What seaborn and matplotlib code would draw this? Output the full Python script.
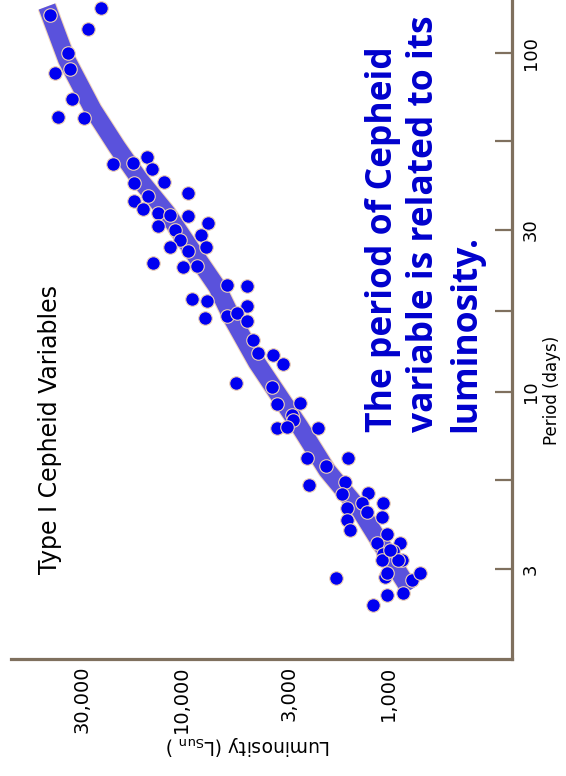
import numpy as np
import pandas as pd
import seaborn as sns
import matplotlib.pyplot as plt
from matplotlib.ticker import FixedLocator, NullFormatter

# Type I Cepheids: luminosity (L_sun) and period (days)
luminosity = [42960, 24360, 28100, 35200, 40600, 34400, 33600, 39300, 29400,
              21300, 17060, 14590, 13800, 12080, 16870, 9250, 14420, 16870,
              15260, 12910, 11300, 9250, 7410, 12910, 10690, 8010, 10110, 7570,
              11300, 9250, 13650, 9780, 8370, 6000, 4800, 8850, 7490, 4800,
              7660, 6000, 5370, 4800, 4490, 4250, 3590, 3220, 3630, 3440, 2660,
              2910, 2880, 3440, 3080, 2180, 2460, 1990, 1560, 2410, 1610, 1670,
              1250, 1340, 1060, 1580, 1260, 1070, 1580, 1530, 1010, 1130, 875,
              1060, 946, 856, 1070, 1030, 766, 700, 1780, 846, 1010, 1180, 1010,
              895, 978, 5420]
period = [129, 135, 117.8, 100, 87.3, 89.8, 73.1, 64.7, 64.3,
          47.1, 47.4, 49.3, 45.5, 41.6, 41.4, 38.6, 37.9, 36.6,
          34.7, 33.7, 33.3, 33.1, 31.5, 30.9, 30.0, 29.0, 28.1, 26.8,
          26.8, 26.0, 23.9, 23.4, 23.5, 20.7, 20.5, 18.8, 18.5, 17.9,
          16.5, 16.7, 17.1, 16.2, 14.2, 13.0, 12.8, 12.1, 10.3, 9.2, 9.27,
          8.55, 8.26, 7.82, 7.88, 7.82, 6.38, 6.04, 6.38, 5.31, 5.42, 4.99,
          5.03, 4.70, 4.70, 4.54, 4.42, 4.27, 4.18, 3.91, 3.80, 3.58, 3.58,
          3.32, 3.39, 3.19, 3.19, 2.84, 2.78, 2.92, 2.82, 2.55, 2.51, 2.35, 2.92,
          3.19, 3.41, 10.6]

# the broad period-luminosity band
band_lum = [44400, 35600, 26600, 20400, 15800, 11700, 9060, 6700, 5610,
            4300, 2660, 1970, 1365, 945, 783]
band_per = [136.8, 95.3, 67.9, 52.8, 42.2, 33.7, 26.7, 20.4, 16.3,
            12.2, 7.87, 5.87, 4.48, 3.12, 2.60]

lum_ticks = [1000, 3000, 10000, 30000]
lum_labels = ["1,000", "3,000", "10,000", "30,000"]
lum_minor = [577, 1732, 5477, 17320, 51960]
per_ticks = [3, 10, 30, 100]
per_labels = ["3", "10", "30", "100"]
per_minor = [5.477, 17.32, 54.77]

stars = pd.DataFrame({"lum": luminosity, "per": period})
band = pd.DataFrame({"lum": band_lum, "per": band_per})

sns.set_style("white")
plt.rcParams["font.family"] = ["DejaVu Sans"]

axis_col = "#7f705e"

fig = plt.figure(figsize=(5.66, 7.76), dpi=100)
ax = fig.add_axes([11/566, 117/776, 501/566, 659/776])

# chart is shown turned a quarter turn: luminosity runs leftward, period upward
sns.lineplot(data=band, x="lum", y="per", sort=False, estimator=None,
             color="#f2d6bc", linewidth=14, solid_capstyle="butt", ax=ax)
sns.lineplot(data=band, x="lum", y="per", sort=False, estimator=None,
             color="#5a52dc", linewidth=12.5, solid_capstyle="butt", ax=ax)
sns.scatterplot(data=stars, x="lum", y="per", color="#0000f0", s=95,
                edgecolor="#f0d2b4", linewidth=0.8, ax=ax, zorder=5)

ax.set_xscale("log")
ax.set_yscale("log")
ax.set_xlim(66200, 252)
ax.set_ylim(1.63, 143)

ax.xaxis.set_major_locator(FixedLocator(lum_ticks))
ax.xaxis.set_minor_locator(FixedLocator(lum_minor))
ax.set_xticklabels(lum_labels)
ax.xaxis.set_minor_formatter(NullFormatter())
ax.yaxis.tick_right()
ax.yaxis.set_major_locator(FixedLocator(per_ticks))
ax.yaxis.set_minor_locator(FixedLocator(per_minor))
ax.set_yticklabels(per_labels)
ax.yaxis.set_minor_formatter(NullFormatter())

for side in ["top", "left"]:
    ax.spines[side].set_visible(False)
for side in ["bottom", "right"]:
    ax.spines[side].set_color(axis_col)
    ax.spines[side].set_linewidth(2.3)

ax.tick_params(axis="x", which="both", direction="in", length=8, width=1.6,
               color=axis_col, labelrotation=90, labelsize=14, pad=5,
               labelcolor="black")
ax.tick_params(axis="y", which="both", direction="in", length=12, width=1.6,
               color=axis_col, labelrotation=90, labelsize=13, pad=7,
               labelcolor="black")
for t in ax.get_yticklabels():
    t.set_va("center")

ax.set_xlabel("")
ax.set_ylabel("")

fig.text(248/566, 1 - 745/776, r"Luminosity (L$_{\rm Sun}$ )", rotation=180,
         ha="center", va="center", fontsize=13.5, color="black")
fig.text(552/566, 1 - 390/776, "Period (days)", rotation=90,
         ha="center", va="center", fontsize=12, color="black")
fig.text(50/566, 1 - 430/776, "Type I Cepheid Variables", rotation=90,
         ha="center", va="center", fontsize=17, color="black")

fig.text(365/566, 1 - 432/776,
         "The period of Cepheid\nvariable is related to its\nluminosity.",
         rotation=90, ha="left", va="bottom", multialignment="left",
         fontsize=25.5, fontweight="bold", color="#0000cd",
         family=["Open Sans", "DejaVu Sans"], linespacing=1.2)

fig.savefig("out.png", dpi=100)
